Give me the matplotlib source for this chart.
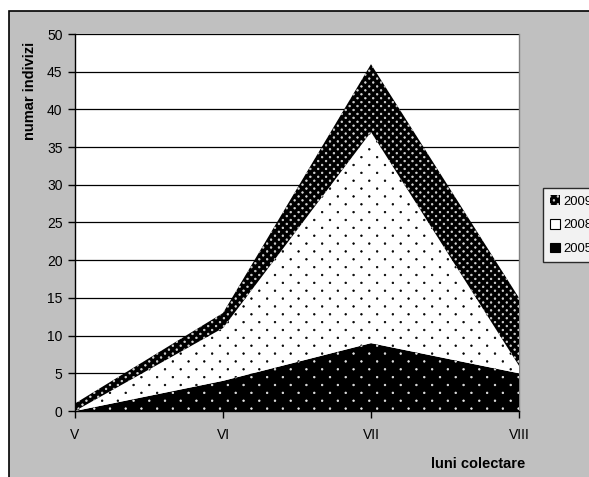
import matplotlib
matplotlib.use("Agg")
import matplotlib.pyplot as plt
import matplotlib.hatch as mhatch
from matplotlib.path import Path
from matplotlib.patches import Rectangle, Patch
import numpy as np

plt.rcParams['font.family'] = ['Liberation Sans', 'DejaVu Sans']

months = ["V", "VI", "VII", "VIII"]
s2005 = [0, 4, 9, 5]
s2008 = [0, 7, 28, 1]
s2009 = [1, 2, 9, 9]
yticks = [0, 5, 10, 15, 20, 25, 30, 35, 40, 45, 50]

DPI = 110
S = 100 / DPI  # keep pixel sizes as designed for 100 dpi


class StaggerDots(mhatch.HatchPatternBase):
    """Staggered dot texture: rows twice as dense as columns."""
    radius = 0.0075

    def __init__(self, hatch, density):
        n = hatch.count('.')
        self.rows = 14 * n
        self.cols = 7 * n
        circ = Path.unit_circle()
        self.sv = circ.vertices
        self.sc = circ.codes
        if n == 0:
            self.num_vertices = 0
        else:
            nshapes = (self.rows // 2 + 1) * (self.cols + 1) + (self.rows // 2) * self.cols
            self.num_vertices = nshapes * len(self.sv)

    def set_vertices_and_codes(self, vertices, codes):
        vs, cs = [], []
        for row in range(self.rows + 1):
            yy = row / self.rows
            if row % 2 == 0:
                xs = np.linspace(0, 1, self.cols + 1)
            else:
                xs = (np.arange(self.cols) + 0.5) / self.cols
            for xx in xs:
                vs.append(self.sv * self.radius + [xx, yy])
                cs.append(self.sc)
        np.concatenate(vs, out=vertices)
        np.concatenate(cs, out=codes)


mhatch._hatch_types = [t for t in mhatch._hatch_types
                       if t is not mhatch.SmallFilledCircles] + [StaggerDots]

W, H = 589, 477
fig = plt.figure(figsize=((W + 0.01) / DPI, (H + 0.01) / DPI), dpi=DPI, facecolor='white')
bg = Rectangle((9/W, -0.1), 1.2, 1 - 11/H + 0.1, transform=fig.transFigure,
               facecolor='#c0c0c0', edgecolor='black', linewidth=1.2*S, zorder=-10)
fig.patches.append(bg)

ax = fig.add_axes([75/W, 1 - 411/H, (519-75)/W, (411-34)/H])
ax.set_facecolor('white')
x = np.arange(len(months))
b0 = np.zeros(len(months))
c1 = np.array(s2005, float)
c2 = c1 + np.array(s2008, float)
c3 = c2 + np.array(s2009, float)

plt.rcParams['hatch.linewidth'] = 0.45
ax.fill_between(x, b0, c1, facecolor='black', edgecolor='#e8e8e8', hatch='.', linewidth=0, zorder=3)
ax.fill_between(x, c1, c2, facecolor='white', edgecolor='black', hatch='.', linewidth=0, zorder=3)
ax.fill_between(x, c2, c3, facecolor='black', edgecolor='#d8d8d8', hatch='..', linewidth=0, zorder=3)

ax.set_xlim(0, 3)
ax.set_ylim(0, 50)
ax.set_xticks(x)
ax.set_xticklabels(months)
ax.set_yticks(yticks)
ax.yaxis.grid(True, color='black', linewidth=0.9*S, zorder=1)
ax.set_axisbelow(True)
ax.tick_params(axis='both', labelsize=10*S, direction='out', length=5*S, width=1*S,
               colors='black', pad=4*S)
ax.tick_params(axis='x', pad=7*S)
for side in ['left', 'bottom']:
    ax.spines[side].set_color('black')
    ax.spines[side].set_linewidth(1*S)
    ax.spines[side].set_zorder(5)
ax.spines['top'].set_visible(False)
ax.spines['right'].set_color('#808080')
ax.spines['right'].set_linewidth(1*S)

fig.text(30/W, 1 - 91/H, 'numar indivizi', rotation=90, ha='center', va='center',
         fontsize=10.5*S, fontweight='bold')
fig.text(478/W, 1 - 464/H, 'luni colectare', ha='center', va='center',
         fontsize=10.5*S, fontweight='bold')

handles = [
    Patch(facecolor='black', edgecolor='#d8d8d8', hatch='..', linewidth=0),
    Patch(facecolor='white', edgecolor='black', linewidth=0.8*S),
    Patch(facecolor='black', edgecolor='black', linewidth=0.8*S),
]
leg = fig.legend(handles, ['2009', '2008', '2005'], loc='upper left',
                 bbox_to_anchor=(543/W, 1 - 188/H), bbox_transform=fig.transFigure,
                 fontsize=9.5*S, frameon=True, fancybox=False, edgecolor='black',
                 handlelength=0.75, handleheight=0.75, handletextpad=0.25,
                 labelspacing=0.85, borderpad=0.55, borderaxespad=0)
leg.get_frame().set_linewidth(1*S)
leg.get_frame().set_facecolor('white')

fig.savefig('out.png', dpi=DPI, facecolor='white')
